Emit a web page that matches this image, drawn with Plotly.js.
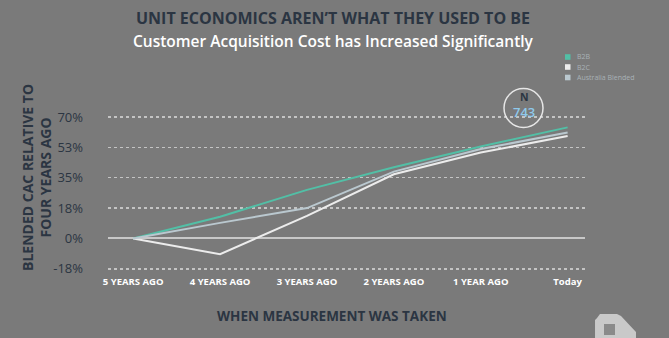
<!DOCTYPE html>
<html>
<head>
<meta charset="utf-8">
<script src="https://cdn.plot.ly/plotly-3.0.1.min.js"></script>
<style>
  html, body { margin: 0; padding: 0; background: #7a7a7a; }
  #chart { width: 669px; height: 338px; }
</style>
</head>
<body>
<div id="chart"></div>
<script>
const categories = ["5 YEARS AGO", "4 YEARS AGO", "3 YEARS AGO", "2 YEARS AGO", "1 YEAR AGO", "Today"];
const b2b = [0, 12.5, 28, 41, 53, 64];
const b2c = [0, -9, 13, 37, 49.5, 59];
const australiaBlended = [0, 9, 17.5, 38.5, 51.5, 61];
const tickVals = [-17.5, 0, 17.5, 35, 52.5, 70];
const tickText = ["-18%", "0%", "18%", "35%", "53%", "70%"];
const seriesNames = ["B2B", "B2C", "Australia Blended"];
const seriesColors = ["#52bfa6", "#ececec", "#bac8cf"];
const sampleSize = "743";

const W = 669, H = 338;
const M = { l: 108, r: 84, t: 110, b: 64 };
const PW = W - M.l - M.r, PH = H - M.t - M.b;
const px = x => (x - M.l) / PW;
const py = y => (H - M.b - y) / PH;

const seriesData = [b2b, b2c, australiaBlended];
const traces = seriesData.map((vals, i) => ({
  x: categories, y: vals, type: "scatter", mode: "lines", name: seriesNames[i],
  line: { color: seriesColors[i], width: 2 },
  showlegend: false, hoverinfo: "skip"
}));

const dark = "#2b3542";
const shapes = [
  { type: "circle", xref: "paper", yref: "paper",
    x0: px(504), x1: px(543), y0: py(127.5), y1: py(88.5),
    line: { color: "#e6e6e6", width: 1.5 } }
];
const annotations = [
  { text: "UNIT ECONOMICS AREN\u2019T WHAT THEY USED TO BE", xref: "paper", yref: "paper",
    x: px(333), y: py(18), xanchor: "center", yanchor: "middle", showarrow: false,
    font: { size: 16, color: dark, family: "Open Sans", weight: 700 } },
  { text: "Customer Acquisition Cost has Increased Significantly", xref: "paper", yref: "paper",
    x: px(333), y: py(41), xanchor: "center", yanchor: "middle", showarrow: false,
    font: { size: 15.5, color: "#ffffff", family: "Open Sans", weight: 600 } },
  { text: "WHEN MEASUREMENT WAS TAKEN", xref: "paper", yref: "paper",
    x: px(332), y: py(316), xanchor: "center", yanchor: "middle", showarrow: false,
    font: { size: 13.5, color: dark, family: "Open Sans", weight: 700 } },
  { text: "BLENDED CAC RELATIVE TO<br>FOUR YEARS AGO", xref: "paper", yref: "paper",
    x: px(36), y: py(178), xanchor: "center", yanchor: "middle", showarrow: false,
    textangle: -90,
    font: { size: 14, color: dark, family: "Open Sans", weight: 700 } },
  { text: "<span style='font-size:10.5px'>N</span><br><span style='color:#8ec9ec;font-size:13px;font-weight:600'>" + sampleSize + "</span>",
    xref: "paper", yref: "paper",
    x: px(523.5), y: py(105), xanchor: "center", yanchor: "middle", showarrow: false,
    font: { size: 12, color: dark, family: "Open Sans", weight: 700 } }
];

// legend drawn as squares + labels
const legendY = [57, 67, 77.5];
seriesNames.forEach((n, i) => {
  shapes.push({ type: "rect", xref: "paper", yref: "paper",
    x0: px(565), x1: px(570.5), y0: py(legendY[i] + 2.8), y1: py(legendY[i] - 2.8),
    fillcolor: seriesColors[i], line: { width: 0 } });
  annotations.push({ text: n, xref: "paper", yref: "paper",
    x: px(575), y: py(legendY[i]), xanchor: "left", yanchor: "middle", showarrow: false,
    font: { size: 7, color: "#a9b1b6", family: "Open Sans" } });
});

// logo mark bottom right
const logo = [[597,318],[600,314],[617,314],[621,316],[636,332],[636,338],[595,338],[595,320]];
shapes.push({ type: "path", xref: "paper", yref: "paper",
  path: "M " + logo.map(p => px(p[0]).toFixed(4) + "," + py(p[1]).toFixed(4)).join(" L ") + " Z",
  fillcolor: "#c9c9c9", line: { width: 0 } });
shapes.push({ type: "rect", xref: "paper", yref: "paper",
  x0: px(604), x1: px(615), y0: py(335), y1: py(324),
  fillcolor: "#8a8a8a", line: { width: 0 } });

const layout = {
  width: W, height: H,
  paper_bgcolor: "#7a7a7a", plot_bgcolor: "#7a7a7a",
  margin: M,
  showlegend: false,
  font: { family: "Open Sans, sans-serif" },
  xaxis: {
    type: "category", range: [-0.29, 5.2],
    showgrid: false, zeroline: false, showline: false, ticks: "",
    tickfont: { color: "#ffffff", size: 9.5, family: "Open Sans", weight: 700 },
    fixedrange: true, automargin: false
  },
  yaxis: {
    range: [-20.45, 74], tickvals: tickVals, ticktext: tickText,
    showgrid: true, gridcolor: "#c4c4c4", gridwidth: 1.5, griddash: "3px,3px",
    zeroline: true, zerolinecolor: "#c8c8c8", zerolinewidth: 2,
    showline: false, ticks: "", ticklabelstandoff: 24,
    tickfont: { color: dark, size: 13, family: "Open Sans" },
    fixedrange: true, automargin: false
  },
  shapes: shapes,
  annotations: annotations
};

Plotly.newPlot("chart", traces, layout, { displayModeBar: false, staticPlot: true });
</script>
</body>
</html>
